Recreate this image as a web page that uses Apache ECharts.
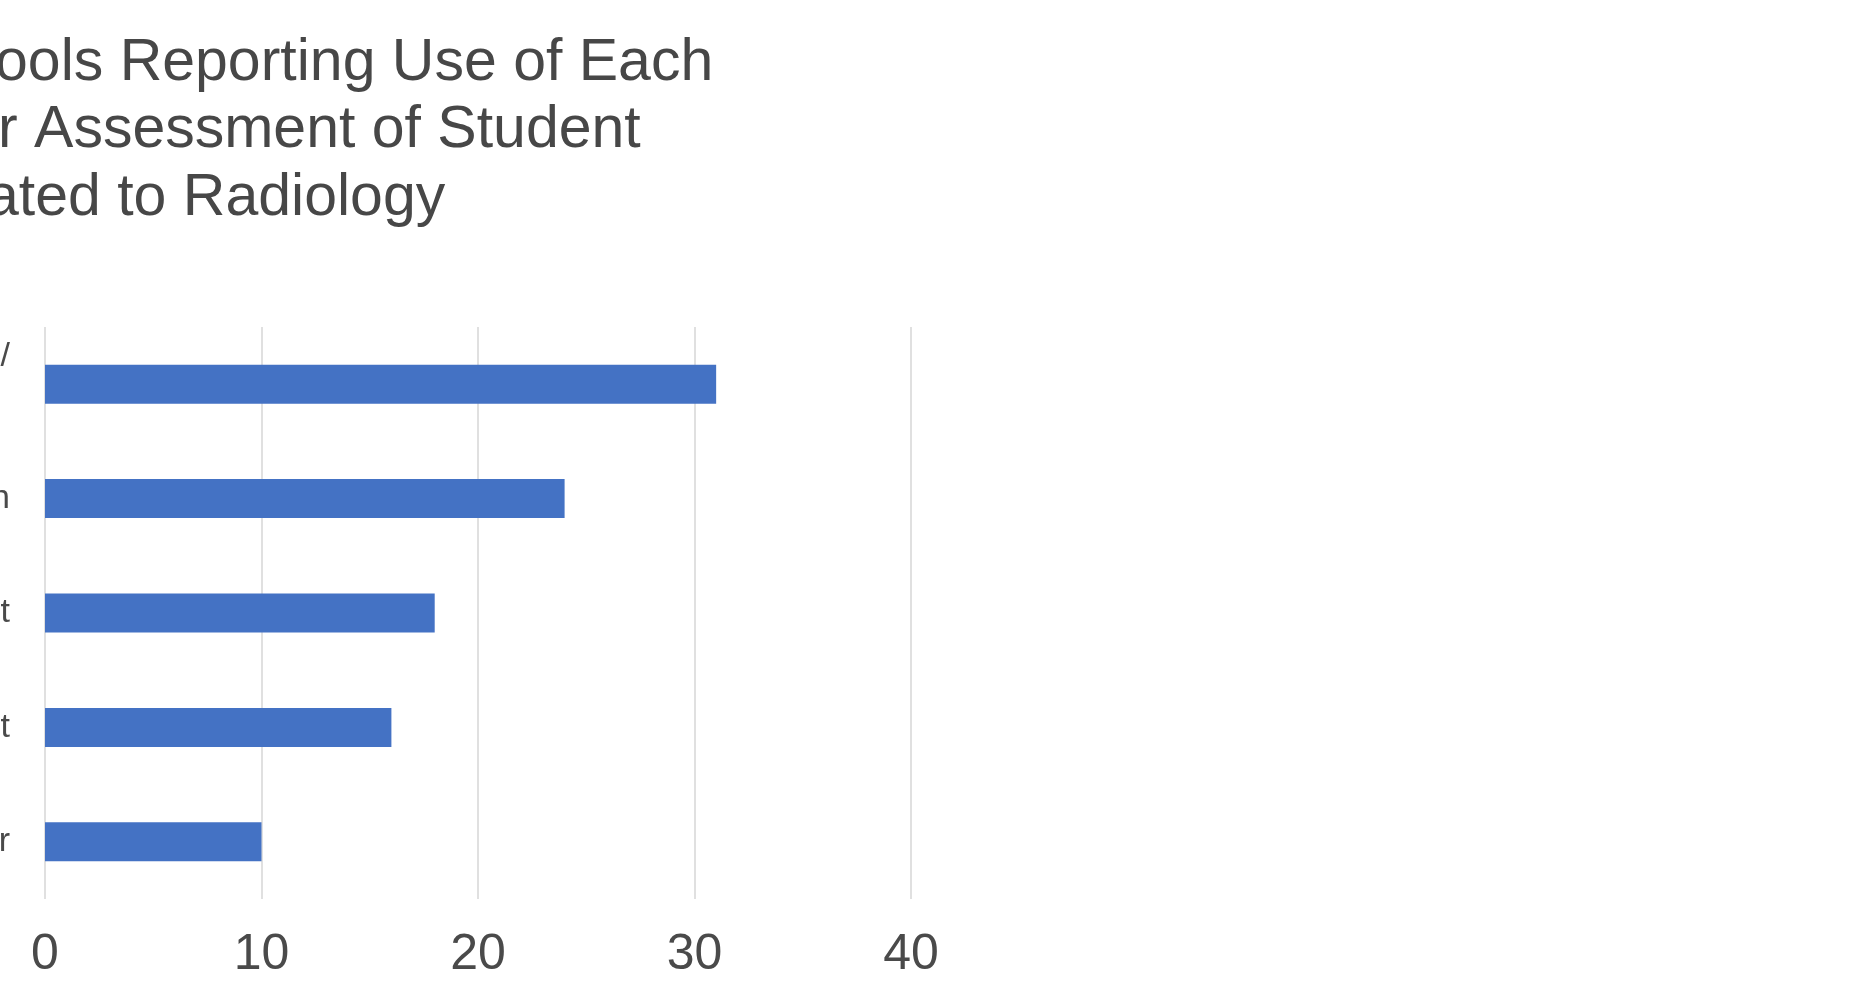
<!DOCTYPE html>
<html>
<head>
<meta charset="utf-8">
<script src="https://cdn.jsdelivr.net/npm/echarts@6/dist/echarts.min.js"></script>
<style>
  html, body { margin: 0; padding: 0; background: #ffffff; }
  #chart { width: 1859px; height: 988px; }
</style>
</head>
<body>
<div id="chart"></div>
<script>
// Visible (cropped) title lines
var titleLines = [
  'ools Reporting Use of Each',
  'r Assessment of Student',
  'ated to Radiology'
];
// Categories (only their right ends are visible in the cropped reference)
var categories = [
  'Written examination/\nquiz',
  'Image interpretation',
  'Faculty assessment',
  'Practical assessment',
  'Other'
];
var schoolCounts = [31, 24, 18, 16, 10];
var xTicks = [0, 10, 20, 30, 40];

var chart = echarts.init(document.getElementById('chart'), null, { renderer: 'canvas' });

var titleX = [-5, -2, -14];
var titleY = [34, 101, 169];
var titleGraphics = titleLines.map(function (t, i) {
  return {
    type: 'text',
    left: titleX[i],
    top: titleY[i],
    style: {
      text: t,
      font: '59px "Liberation Sans", Arial, sans-serif',
      fill: '#474747'
    }
  };
});

chart.setOption({
  backgroundColor: '#ffffff',
  animation: false,
  graphic: titleGraphics,
  grid: { left: 45, right: 948, top: 327, bottom: 89, containLabel: false, outerBoundsMode: 'none' },
  xAxis: {
    type: 'value',
    min: xTicks[0],
    max: xTicks[xTicks.length - 1],
    interval: 10,
    axisLine: { show: false },
    axisTick: { show: false },
    splitLine: { show: true, lineStyle: { color: '#d6d6d6', width: 1.5 } },
    axisLabel: {
      margin: 31,
      fontSize: 50,
      color: '#4a4a4a',
      fontFamily: '"Liberation Sans", Arial, sans-serif'
    }
  },
  yAxis: {
    type: 'category',
    inverse: true,
    data: categories,
    axisLine: { show: false },
    axisTick: { show: false },
    splitLine: { show: false },
    axisLabel: {
      margin: 35,
      fontSize: 34,
      color: '#4a4a4a',
      fontFamily: '"Liberation Sans", Arial, sans-serif',
      formatter: function (v) {
        var parts = v.split('\n');
        if (parts.length === 2) {
          return '{a|' + parts[0] + '}\n{b|' + parts[1] + '}';
        }
        return v;
      },
      rich: {
        a: { fontSize: 34, lineHeight: 56, align: 'right', color: '#4a4a4a', fontFamily: '"Liberation Sans", Arial, sans-serif' },
        b: { fontSize: 34, lineHeight: 56, align: 'right', color: '#4a4a4a', padding: [0, 120, 0, 0], fontFamily: '"Liberation Sans", Arial, sans-serif' }
      }
    }
  },
  series: [{
    type: 'bar',
    data: schoolCounts,
    barWidth: 39,
    itemStyle: { color: '#4472c4' }
  }]
});
</script>
</body>
</html>
